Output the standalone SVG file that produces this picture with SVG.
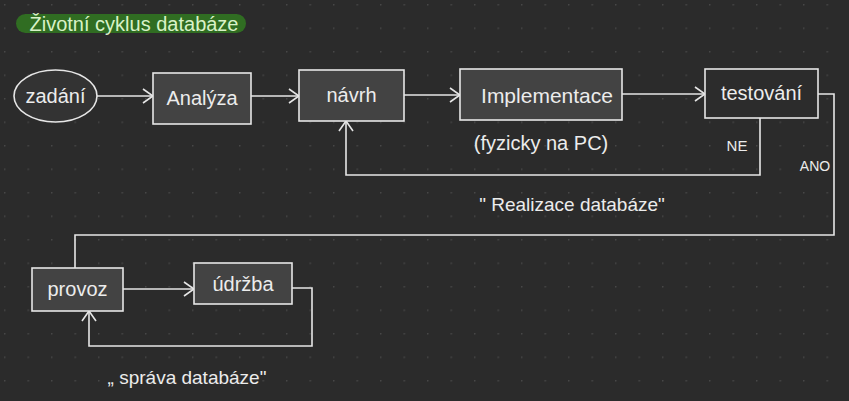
<svg xmlns="http://www.w3.org/2000/svg" width="849" height="401" viewBox="0 0 849 401">
<defs>
<pattern id="dots" x="4" y="4" width="23.5" height="23.5" patternUnits="userSpaceOnUse">
<circle cx="0.8" cy="0.8" r="0.8" fill="#4d4d4d"/>
</pattern>
<marker id="arr" viewBox="0 0 12 16" refX="11" refY="8" markerWidth="12" markerHeight="16" markerUnits="userSpaceOnUse" orient="auto">
<path d="M1,1 L11,8 L1,15" fill="none" stroke="#e6e6e6" stroke-width="1.6"/>
</marker>
</defs>
<style>
.box{fill:#434343;stroke:#e6e6e6;stroke-width:1.6}
.dark{fill:#2c2c2c}
.t{font-family:"Liberation Sans",Arial,sans-serif;fill:#ececec;font-size:20px;text-anchor:middle;dominant-baseline:central}
.s{font-size:19px}
.lab{font-family:"Liberation Sans",Arial,sans-serif;fill:#ececec;font-size:17px;text-anchor:middle;dominant-baseline:central}
.c{fill:none;stroke:#e6e6e6;stroke-width:1.6}
</style>
<rect width="849" height="401" fill="#2b2b2b"/>
<rect width="849" height="401" fill="url(#dots)"/>
<g id="title">
<rect x="16" y="14" width="230" height="19" rx="9.5" fill="#306d22"/>
<text x="134" y="24" class="t" style="fill:#d9f2c8;font-size:20px">Životní cyklus databáze</text>
</g>
<g id="connectors">
<path class="c" d="M97,96 H153" marker-end="url(#arr)"/>
<path class="c" d="M251,96 H299" marker-end="url(#arr)"/>
<path class="c" d="M404,95 H460" marker-end="url(#arr)"/>
<path class="c" d="M622,94 H705" marker-end="url(#arr)"/>
<path class="c" d="M760,118 V175 H346 V121" marker-end="url(#arr)"/>
<path class="c" d="M818,94 H834 V235 H75 V268"/>
<path class="c" d="M123,289 H194" marker-end="url(#arr)"/>
<path class="c" d="M292,288 H312 V346 H89 V311" marker-end="url(#arr)"/>
</g>
<g id="zadani">
<ellipse cx="55.5" cy="96" rx="41.5" ry="26" class="box" style="fill:#333"/>
<text x="55.5" y="96" class="t">zadání</text>
</g>
<g id="analyza">
<rect x="153" y="73" width="98" height="51" class="box"/>
<text x="202" y="98" class="t">Analýza</text>
</g>
<g id="navrh">
<rect x="299" y="70" width="105" height="51" class="box"/>
<text x="351.5" y="95" class="t">návrh</text>
</g>
<g id="implementace">
<rect x="460" y="69" width="162" height="51" class="box"/>
<text x="547" y="95" class="t" style="font-size:21px">Implementace</text>
</g>
<g id="testovani">
<rect x="705" y="69" width="113" height="49" class="box dark"/>
<text x="761.5" y="93" class="t">testování</text>
</g>
<g id="provoz">
<rect x="32" y="268" width="91" height="43" class="box"/>
<text x="77.5" y="289" class="t">provoz</text>
</g>
<g id="udrzba">
<rect x="194" y="263" width="98" height="41" class="box"/>
<text x="243" y="284" class="t">údržba</text>
</g>
<g id="labels">
<text x="541" y="143" class="t">(fyzicky na PC)</text>
<text x="737" y="145" class="lab" style="font-size:15px">NE</text>
<text x="815" y="166" class="lab" style="font-size:14px">ANO</text>
<text x="572" y="204" class="t s">" Realizace databáze"</text>
<text x="187" y="377" class="t s">„ správa databáze"</text>
</g>
</svg>
